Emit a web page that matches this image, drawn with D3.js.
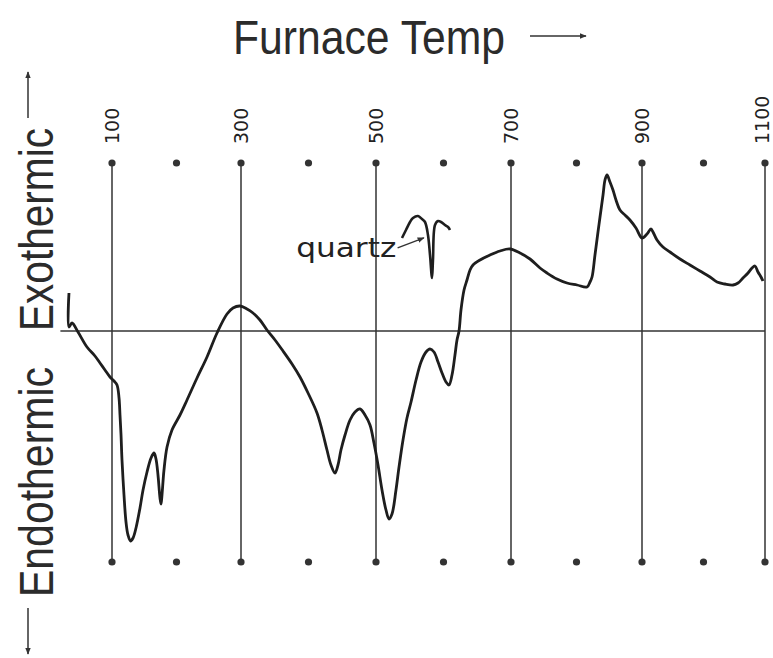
<!DOCTYPE html>
<html>
<head>
<meta charset="utf-8">
<script src="https://cdn.jsdelivr.net/npm/d3@7"></script>
<style>
  body { margin: 0; background: #fff; }
  svg { display: block; }
  .lbl { font-family: "Liberation Sans", Arial, sans-serif; fill: #2b2b2b; }
  .tick { font-family: "DejaVu Sans", sans-serif; font-size: 19px; fill: #222; }
</style>
</head>
<body>
<script>
// furnace temperature of the grid
var gridTemps = [100, 200, 300, 400, 500, 600, 700, 800, 900, 1000, 1100];
var labelTemps = [100, 300, 500, 700, 900, 1100];

// DTA trace (temp, deflection)
var dtaTemp = [33.3, 33.3, 38, 47.3, 61.2, 73.6, 81.4, 89.1, 96.9, 103.1, 107.8, 110.9, 112.4, 114, 115.5,
  118.6, 121.7, 124.8, 128.7, 132.6, 137.2, 143.4, 148.1, 154.3, 160.5, 165.1, 168.2, 171.3, 174.4, 176,
  177.5, 180.6, 185.3, 193, 205.4, 216.3, 231.8, 247.3, 262.8, 278.3, 287.6, 298.4, 308.9, 317.8, 328.1,
  338.5, 350.4, 362.2, 375.6, 387.4, 399.3, 412.6, 420, 427.4, 433.3, 439.3, 443.7, 448.1, 454.1, 461.5,
  468.9, 476.3, 483.7, 491.1, 497, 503, 508.9, 514.8, 519.3, 523.7, 529.6, 534.1, 540, 545.9, 551.9,
  559.3, 566.7, 574.1, 580, 585.9, 591.9, 597.8, 603.7, 608.1, 612.6, 617, 620, 623, 625.9, 630.4,
  634.8, 639.3, 643.7, 654.1, 668.9, 683.7, 698.5, 713.7, 729, 744.3, 755, 770.2, 785.5, 800.8, 816,
  820.6, 823.7, 828.2, 832.8, 835.9, 840.5, 843.5, 846.6, 851.1, 855.7, 860.3, 866.4, 874, 881.6, 890.8,
  900, 908.1, 914.6, 917.9, 924.4, 934.1, 945.5, 961.8, 978, 994.3, 1010.6, 1022, 1035, 1048, 1056.1,
  1064.2, 1072.4, 1078.9, 1083.7, 1088.6, 1093.5, 1096.7];
var dtaSignal = [9.5, 1, 2, -0.25, -4, -6.25, -8, -9.75, -11.5, -12.5, -13.5, -16.75, -21, -26, -32.25,
  -41, -47.75, -51, -52.5, -51.75, -49.25, -44.25, -39.75, -35.25, -31.75, -30.5, -32, -36, -41.75, -43.25,
  -41, -34.75, -29, -24.75, -21, -17.25, -11.75, -6.5, -0.5, 4.25, 5.75, 6.25, 5.5, 4.5, 2.75,
  0.25, -2.25, -5, -8.25, -11.5, -15.5, -20.5, -24.75, -29.75, -33.5, -35.5, -33.5, -29.75, -26, -22.25,
  -20.25, -19.5, -21, -23.5, -28, -33.5, -39.75, -44.75, -47, -45.75, -39.75, -34, -27.25, -21.75, -17.75,
  -12.25, -7.75, -5.25, -4.5, -5.25, -7.75, -10.5, -12.75, -13.5, -11, -6, -2.25, 0, 5.25, 10.25,
  12.75, 15.25, 16.5, 17.75, 19, 20, 20.5, 19.5, 18, 15.75, 14.5, 13, 12, 11.5, 11,
  12.25, 13.5, 19, 24.75, 28.5, 34, 37.75, 39, 37.25, 35.25, 32.75, 30.25, 29, 27.75, 25.75,
  23.25, 24.25, 25.5, 24.75, 22.75, 21, 19.75, 18, 16.5, 15, 13.5, 12.25, 11.75, 11.5, 12,
  13.25, 14.5, 15.75, 16.25, 14.75, 13.5, 12.5];

// small quartz inversion trace drawn as inset
var quartzTemp = [538.5, 544.4, 550.4, 554.8, 562.2, 568.1, 572.6, 577, 580, 583, 584.4, 587.4, 591.9, 596.3, 602.2, 606.7, 609.6];
var quartzSignal = [23.25, 25.25, 27.25, 28.25, 28.75, 28, 27.25, 24, 19, 13.25, 17.75, 26.5, 27.5, 27.25, 26.5, 26, 25.25];

var width = 773, height = 658;

var svg = d3.select("body").append("svg")
  .attr("width", width)
  .attr("height", height);

var defs = svg.append("defs");
defs.append("marker")
  .attr("id", "head")
  .attr("viewBox", "0 0 10 10")
  .attr("refX", 9).attr("refY", 5)
  .attr("markerWidth", 7).attr("markerHeight", 7)
  .attr("markerUnits", "userSpaceOnUse")
  .attr("orient", "auto")
  .append("path")
  .attr("d", "M0,1 L10,5 L0,9 Z")
  .attr("fill", "#333");

// grid spacing on the original chart is slightly uneven
var x = d3.scaleLinear()
  .domain(labelTemps)
  .range([112, 241, 376, 511, 642, 765]);

var y = d3.scaleLinear()
  .domain([-58, 42])
  .range([563, 163]);

var yTop = 42, yBottom = -57.75;

// vertical lines
svg.append("g")
  .selectAll("line")
  .data(labelTemps)
  .enter().append("line")
  .attr("x1", function (d) { return x(d); })
  .attr("x2", function (d) { return x(d); })
  .attr("y1", y(yTop))
  .attr("y2", y(yBottom))
  .attr("stroke", "#333")
  .attr("stroke-width", 1.5);

// zero line
svg.append("line")
  .attr("x1", x(20)).attr("x2", x(1100))
  .attr("y1", y(0)).attr("y2", y(0))
  .attr("stroke", "#333")
  .attr("stroke-width", 1.5);

// dots top and bottom
[yTop, yBottom].forEach(function (v) {
  svg.append("g")
    .selectAll("circle")
    .data(gridTemps)
    .enter().append("circle")
    .attr("cx", function (d) { return x(d); })
    .attr("cy", y(v))
    .attr("r", 3.6)
    .attr("fill", "#333");
});

// tick labels
svg.append("g")
  .selectAll("text")
  .data(labelTemps)
  .enter().append("text")
  .attr("class", "tick")
  .attr("transform", function (d) { return "translate(" + Math.min(x(d), 762) + ",144)rotate(-90)"; })
  .attr("dy", "0.36em")
  .text(function (d) { return d; });

var dta = dtaTemp.map(function (t, i) { return [t, dtaSignal[i]]; });
var quartz = quartzTemp.map(function (t, i) { return [t, quartzSignal[i]]; });

var line = d3.line()
  .x(function (d) { return x(d[0]); })
  .y(function (d) { return y(d[1]); })
  .curve(d3.curveCatmullRom.alpha(0.5));

svg.append("path")
  .datum(dta)
  .attr("fill", "none")
  .attr("stroke", "#1e1e1e")
  .attr("stroke-width", 2.8)
  .attr("stroke-linejoin", "round")
  .attr("d", line);

svg.append("path")
  .datum(quartz)
  .attr("fill", "none")
  .attr("stroke", "#1e1e1e")
  .attr("stroke-width", 2.6)
  .attr("stroke-linejoin", "round")
  .attr("d", line);

// quartz annotation
svg.append("text")
  .attr("x", x(530))
  .attr("y", y(18.5))
  .attr("text-anchor", "end")
  .attr("textLength", 100)
  .attr("lengthAdjust", "spacingAndGlyphs")
  .style("font-family", "DejaVu Sans, sans-serif")
  .style("font-size", "27px")
  .attr("fill", "#222")
  .text("quartz");

svg.append("line")
  .attr("x1", x(532)).attr("y1", y(20.8))
  .attr("x2", x(571)).attr("y2", y(23.3))
  .attr("stroke", "#333")
  .attr("stroke-width", 1.4)
  .attr("marker-end", "url(#head)");

// title
svg.append("text")
  .attr("class", "lbl")
  .attr("x", 233)
  .attr("y", 54)
  .attr("textLength", 272)
  .attr("lengthAdjust", "spacingAndGlyphs")
  .style("font-size", "49px")
  .text("Furnace Temp");

svg.append("line")
  .attr("x1", 530).attr("x2", 586)
  .attr("y1", 36).attr("y2", 36)
  .attr("stroke", "#333").attr("stroke-width", 1.5)
  .attr("marker-end", "url(#head)");

// side labels
svg.append("text")
  .attr("class", "lbl")
  .attr("transform", "translate(53,331)rotate(-90)")
  .attr("textLength", 203)
  .attr("lengthAdjust", "spacingAndGlyphs")
  .style("font-size", "48px")
  .text("Exothermic");

svg.append("line")
  .attr("x1", 28).attr("x2", 28)
  .attr("y1", 118).attr("y2", 72)
  .attr("stroke", "#333").attr("stroke-width", 1.5)
  .attr("marker-end", "url(#head)");

svg.append("text")
  .attr("class", "lbl")
  .attr("transform", "translate(53,597)rotate(-90)")
  .attr("textLength", 230)
  .attr("lengthAdjust", "spacingAndGlyphs")
  .style("font-size", "48px")
  .text("Endothermic");

svg.append("line")
  .attr("x1", 28).attr("x2", 28)
  .attr("y1", 608).attr("y2", 654)
  .attr("stroke", "#333").attr("stroke-width", 1.5)
  .attr("marker-end", "url(#head)");
</script>
</body>
</html>
